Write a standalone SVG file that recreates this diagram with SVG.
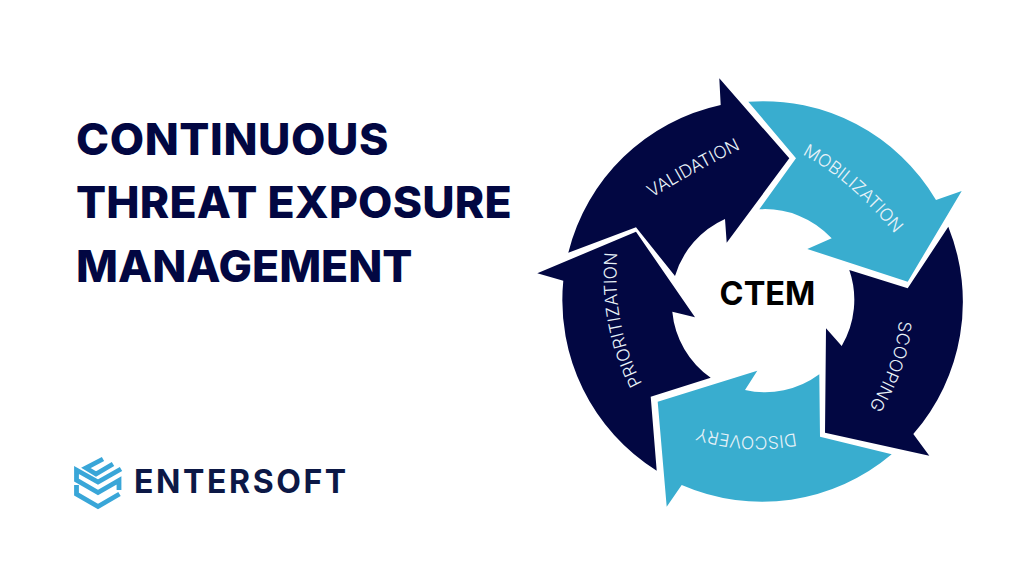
<svg xmlns="http://www.w3.org/2000/svg" width="1024" height="585" viewBox="0 0 1024 585">
<style>
.navy{fill:#020742}.sky{fill:#39adcf}
.h{font:800 44.5px Inter,"Liberation Sans",sans-serif;fill:#020742}
.l{font:300 17.5px Inter,"Liberation Sans",sans-serif;fill:#e8f2f8;text-anchor:middle}
</style>
<defs>
<path id="pv" d="M642 204Q696 170 751 144"/>
<path id="pm" d="M795 151Q847 175 900 240"/>
<path id="ps" d="M899 308Q901 360 862 418"/>
<path id="pd" d="M806 431Q745 445 688 424"/>
<path id="pp" d="M651 398Q607 330 619 236"/>
</defs>
<rect width="1024" height="585" fill="#fff"/>
<g id="title">
<text class="h" x="76" y="155" style="letter-spacing:.6px">CONTINUOUS</text>
<text class="h" x="76" y="218" style="letter-spacing:.2px">THREAT EXPOSURE</text>
<text class="h" x="76" y="282">MANAGEMENT</text>
</g>
<g id="node-validation">
<path class="navy" d="M789.3 158.3L719.3 78.3L720.7 105A201 201 0 0 0 568.3 252.7L636 227.3L675 276A91 91 0 0 1 725 219L726.7 242.7Z"/>
<text class="l"><textPath href="#pv" startOffset="50%">VALIDATION</textPath></text>
</g>
<g id="node-mobilization">
<path class="sky" d="M748.3 101.7A201 201 0 0 1 936 200L961.7 191L907.7 281.7L807.3 249L831.7 238.3A91 91 0 0 0 759.3 209.3L796 158.3Z"/>
<text class="l"><textPath href="#pm" startOffset="50%">MOBILIZATION</textPath></text>
</g>
<g id="node-scooping">
<path class="navy" d="M948.3 226.7A201 201 0 0 1 913.3 434L929.3 455.7L825 432.7L826 328.3L841.7 346A91 91 0 0 0 849.3 270L907.7 288.3Z"/>
<text class="l"><textPath href="#ps" startOffset="50%">SCOOPING</textPath></text>
</g>
<g id="node-discovery">
<path class="sky" d="M891.7 454.3A201 201 0 0 1 681.7 485L666.7 506.7L657.7 401.7L757.3 370.7L745 390A91 91 0 0 0 819.3 374.3L820 436.7Z"/>
<text class="l"><textPath href="#pd" startOffset="50%">DISCOVERY</textPath></text>
</g>
<g id="node-prioritization">
<path class="navy" d="M656.7 470.7A201 201 0 0 1 563.3 280.7L537.3 273.3L636 231.7L695 317.3L672.3 311.7A91 91 0 0 0 710.7 377.7L650.7 396.7Z"/>
<text class="l"><textPath href="#pp" startOffset="50%">PRIORITIZATION</textPath></text>
</g>
<g id="node-center">
<text x="767.500" y="305" text-anchor="middle" style="font:700 32.500px Inter,'Liberation Sans',sans-serif;fill:#000">CTEM</text>
</g>
<g id="logo">
<path fill="none" stroke="#39a6d8" stroke-width="4.800" d="M103 459L86 468L96 474L113 464M121 469L98 482L76.500 470V480L98 492.500L119 480.500V490M76.500 485V494L98 506.500L119.500 494"/>
<text x="134" y="493" style="font:700 32px Inter,'Liberation Sans',sans-serif;fill:#0c1846;letter-spacing:2.600px">ENTERSOFT</text>
</g>
</svg>
